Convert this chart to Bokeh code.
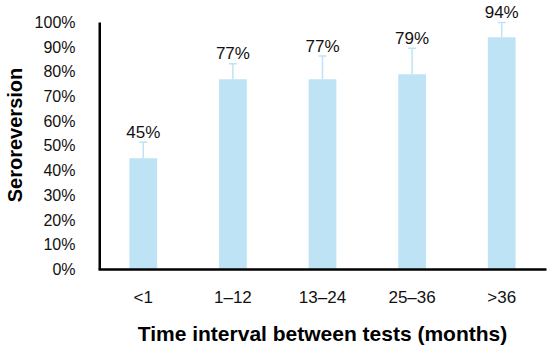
from bokeh.plotting import figure
from bokeh.models import ColumnDataSource, FactorRange, Range1d, FixedTicker, PrintfTickFormatter, LabelSet, Whisker, TeeHead
from bokeh.core.properties import value
from bokeh.embed import file_html
from bokeh.resources import INLINE

categories = ["<1", "1\u201312", "13\u201324", "25\u201336", ">36"]
values = [45, 77, 77, 79, 94]
error_upper = [51.5, 83.3, 86.4, 89.6, 100.0]
value_labels = ["45%", "77%", "77%", "79%", "94%"]
y_ticks = [0, 10, 20, 30, 40, 50, 60, 70, 80, 90, 100]

BAR = "#BEE3F5"
FONT = "Liberation Sans"

src = ColumnDataSource(dict(
    cat=categories, val=values, upper=error_upper, lab=value_labels,
    laby=[u + 1.8 for u in error_upper],
))

p = figure(x_range=FactorRange(factors=categories, range_padding=0),
           y_range=Range1d(0, 108.9),
           frame_width=448, frame_height=269,
           min_border_left=88, min_border_right=2, min_border_top=0, min_border_bottom=73,
           output_backend="svg", toolbar_location=None)
p.outline_line_color = None
p.xgrid.grid_line_color = None
p.ygrid.grid_line_color = None

p.vbar(x="cat", top="val", width=0.31, source=src, fill_color=BAR, line_color=None)

w = Whisker(source=src, base="cat", upper="upper", lower="val",
            line_color=BAR, line_width=1.5,
            upper_head=TeeHead(size=8, line_color=BAR, line_width=1.5), lower_head=None)
p.add_layout(w)

labels = LabelSet(source=src, x="cat", y="laby", text="lab", text_align="center",
                  text_baseline="alphabetic", text_font=value(FONT), text_font_size="17px",
                  text_color="#111111")
p.add_layout(labels)

# y axis line only up to the top tick (100%)
p.segment(x0=[0], y0=[y_ticks[0]], x1=[0], y1=[y_ticks[-1]], line_color="black", line_width=5)

p.yaxis.ticker = FixedTicker(ticks=y_ticks)
p.yaxis.formatter = PrintfTickFormatter(format="%d%%")
for ax in (p.xaxis[0], p.yaxis[0]):
    ax.axis_line_color = "black"
    ax.axis_line_width = 2.5
    ax.major_tick_line_color = None
    ax.minor_tick_line_color = None
    ax.major_label_text_font = FONT
    ax.major_label_text_color = "#111111"
    ax.axis_label_text_font = FONT
    ax.axis_label_text_font_style = "bold"
    ax.axis_label_text_color = "black"

p.yaxis.axis_line_color = None
p.yaxis.major_label_text_font_size = "16px"
p.yaxis.major_label_standoff = 17
p.yaxis.axis_label = "Seroreversion"
p.yaxis.axis_label_text_font_size = "20px"
p.yaxis.axis_label_standoff = 6

p.xaxis.major_label_text_font_size = "17px"
p.xaxis.major_label_standoff = 12
p.xaxis.axis_label = "Time interval between tests (months)"
p.xaxis.axis_label_text_font_size = "21px"
p.xaxis.axis_label_standoff = 12

open("out.html", "w").write(file_html(p, INLINE))
